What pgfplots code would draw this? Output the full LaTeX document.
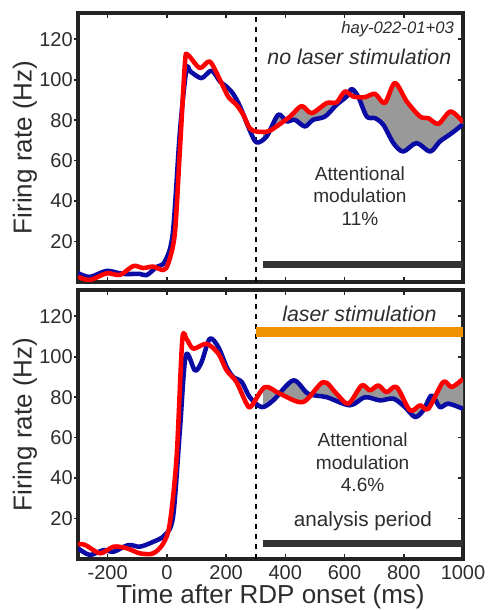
\documentclass[border=0pt]{standalone}
\usepackage{pgfplots}
\pgfplotsset{compat=1.18}
\usepgfplotslibrary{fillbetween}
\usepackage{fontspec}
\setmainfont{Liberation Sans}
\definecolor{myblue}{RGB}{10,10,165}
\definecolor{myred}{RGB}{255,0,0}
\definecolor{myorange}{RGB}{240,146,0}
\definecolor{txt}{RGB}{45,45,45}
\definecolor{frame}{RGB}{35,35,35}

\pgfplotsset{
 myaxis/.style={
  scale only axis, width=288.75pt, height=201.75pt,
  xmin=-300, xmax=1000, ymin=0, ymax=133,
  xtick={-200,0,...,1000}, ytick={20,40,...,120},
  tick align=inside, major tick length=4pt,
  ytick pos=right, yticklabel pos=left,
  extra y ticks={20,40,...,120}, extra y tick labels={},
  extra y tick style={ytick pos=left, tick align=outside, major tick length=3pt},
  axis line style={line width=2.6pt, frame},
  every tick/.style={line width=1.2pt, frame},
  tick label style={font=\fontsize{15}{18}\selectfont, text=txt},
  /pgf/number format/assume math mode=true,
  /pgf/number format/1000 sep={},
  ylabel={Firing rate (Hz)},
  ylabel style={font=\fontsize{19.5}{23}\selectfont, text=txt, at={(axis description cs:-0.138,0.5)}, rotate=0, anchor=center},
  yticklabel style={inner sep=0pt, xshift=-3.75pt},
  xticklabel style={anchor=base, yshift=-15pt},
 },
 blueline/.style={myblue, line width=3.4pt, smooth, line join=round},
 redline/.style={myred, line width=3.4pt, smooth, line join=round},
}

\begin{document}
\begin{tikzpicture}
% ---------------- top panel ----------------
\begin{axis}[myaxis, at={(0pt,207.75pt)}, anchor=south west, xticklabels={}]
\addplot[black, line width=1.5pt, dash pattern=on 3.75pt off 3.75pt, forget plot] coordinates {(300,0) (300,133)};
\addplot[name path=Atop, blueline, draw=none, forget plot] coordinates {
(-300,4.4) (-260,2.5) (-203,5.5) (-149,4) (-91,4) (-68,3.4) (-34,7.5) (-7,10) (20,24) (44,74) (66,105) (80,104)
(117,100.8) (151,104.5) (180,99) (201,96.7) (224,93) (247,86.8) (280,75) (303,69) (337,72) (376,82.7) (404,79.4)
(432,80.2) (466,76.9) (494,80.2) (534,81.8) (573,87.6) (607,91.7) (624,95.4) (646,91.7) (675,81.8) (703,81)
(731,77.7) (765,68.7) (798,64.5) (843,68.7) (889,64.5) (922,69.5) (962,73.6) (1000,78)};
\addplot[name path=Btop, redline, draw=none, forget plot] coordinates {
(-300,2.6) (-260,1) (-203,4.3) (-158,3.5) (-113,7.9) (-80,6.9) (-46,7.6) (-12,5.9) (5,9.3) (27,24) (44,65) (61,108)
(70,112.4) (111,105.8) (145,109) (179,100) (207,91.7) (235,87.6) (258,82.7) (280,76) (303,74.4) (342,74.4) (370,76.9)
(416,81.8) (455,87) (489,83.5) (540,88.5) (573,88.8) (601,94.2) (629,91.7) (669,91.4) (703,93) (736,88.5) (770,98.4)
(810,89.3) (855,81.8) (883,81) (917,78.2) (958,84.3) (1000,79)};
\addplot[fill=black!40, draw=none, forget plot] fill between[of=Atop and Btop, soft clip={domain=325:1000}];
\addplot[blueline, forget plot] coordinates {
(-300,4.4) (-260,2.5) (-203,5.5) (-149,4) (-91,4) (-68,3.4) (-34,7.5) (-7,10) (20,24) (44,74) (66,105) (80,104)
(117,100.8) (151,104.5) (180,99) (201,96.7) (224,93) (247,86.8) (280,75) (303,69) (337,72) (376,82.7) (404,79.4)
(432,80.2) (466,76.9) (494,80.2) (534,81.8) (573,87.6) (607,91.7) (624,95.4) (646,91.7) (675,81.8) (703,81)
(731,77.7) (765,68.7) (798,64.5) (843,68.7) (889,64.5) (922,69.5) (962,73.6) (1000,78)};
\addplot[redline, forget plot] coordinates {
(-300,2.6) (-260,1) (-203,4.3) (-158,3.5) (-113,7.9) (-80,6.9) (-46,7.6) (-12,5.9) (5,9.3) (27,24) (44,65) (61,108)
(70,112.4) (111,105.8) (145,109) (179,100) (207,91.7) (235,87.6) (258,82.7) (280,76) (303,74.4) (342,74.4) (370,76.9)
(416,81.8) (455,87) (489,83.5) (540,88.5) (573,88.8) (601,94.2) (629,91.7) (669,91.4) (703,93) (736,88.5) (770,98.4)
(810,89.3) (855,81.8) (883,81) (917,78.2) (958,84.3) (1000,79)};
\addplot[black!80, line width=5.25pt, forget plot] coordinates {(324,8.6) (1000,8.6)};
\node[font=\fontsize{12.5}{15}\selectfont\itshape, text=txt, anchor=east] at (axis cs:985,124.8) {hay-022-01+03};
\node[font=\fontsize{16}{19}\selectfont\itshape, text=txt] at (axis cs:650,111.4) {no laser stimulation};
\node[font=\fontsize{14.3}{17}\selectfont, text=txt, align=center] at (axis cs:652,42.5) {Attentional\\modulation\\11\%};
\end{axis}
% ---------------- bottom panel ----------------
\begin{axis}[myaxis, at={(0pt,0pt)}, anchor=south west,
  xlabel={Time after RDP onset (ms)},
  xlabel style={font=\fontsize{19.5}{23}\selectfont, text=txt, at={(axis description cs:0.5,0)}, anchor=base, yshift=-33pt}]
\addplot[black, line width=1.5pt, dash pattern=on 3.75pt off 3.75pt, forget plot] coordinates {(300,0) (300,133)};
\addplot[name path=Abot, blueline, draw=none, forget plot] coordinates {
(-300,5.3) (-260,2) (-214,4.4) (-180,3.6) (-130,6.9) (-91,6.1) (-46,8.5) (-7,11.8) (21,20.9) (44,63.6) (64,100.6)
(95,93.2) (117,97.3) (145,108.9) (174,104.7) (202,94.9) (224,90) (253,87.5) (280,80) (320,75.1) (359,78.4) (427,88.3)
(477,81.7) (540,80) (618,76) (669,80) (720,78.4) (765,79.3) (804,75.1) (838,70.2) (866,73.5) (894,80.9) (922,75.1)
(950,76.8) (1000,74.3)};
\addplot[name path=Bbot, redline, draw=none, forget plot] coordinates {
(-300,7.4) (-275,6.9) (-225,2.8) (-180,6.1) (-135,5.3) (-91,2.8) (-46,2.8) (-12,7.7) (10,17.6) (33,50.5) (52,108)
(66,108.9) (89,104) (134,106.4) (174,101.5) (202,93.2) (235,87.5) (269,76.8) (285,75.5) (331,85) (382,81.7) (460,77.6)
(528,87.5) (573,81.7) (613,76.8) (658,85.8) (686,83.4) (714,85.8) (742,82.5) (776,85) (821,73.5) (855,76) (883,74.3)
(933,87.5) (962,85) (1000,89.1)};
\addplot[fill=black!40, draw=none, forget plot] fill between[of=Abot and Bbot, soft clip={domain=325:1000}];
\addplot[blueline, forget plot] coordinates {
(-300,5.3) (-260,2) (-214,4.4) (-180,3.6) (-130,6.9) (-91,6.1) (-46,8.5) (-7,11.8) (21,20.9) (44,63.6) (64,100.6)
(95,93.2) (117,97.3) (145,108.9) (174,104.7) (202,94.9) (224,90) (253,87.5) (280,80) (320,75.1) (359,78.4) (427,88.3)
(477,81.7) (540,80) (618,76) (669,80) (720,78.4) (765,79.3) (804,75.1) (838,70.2) (866,73.5) (894,80.9) (922,75.1)
(950,76.8) (1000,74.3)};
\addplot[redline, forget plot] coordinates {
(-300,7.4) (-275,6.9) (-225,2.8) (-180,6.1) (-135,5.3) (-91,2.8) (-46,2.8) (-12,7.7) (10,17.6) (33,50.5) (52,108)
(66,108.9) (89,104) (134,106.4) (174,101.5) (202,93.2) (235,87.5) (269,76.8) (285,75.5) (331,85) (382,81.7) (460,77.6)
(528,87.5) (573,81.7) (613,76.8) (658,85.8) (686,83.4) (714,85.8) (742,82.5) (776,85) (821,73.5) (855,76) (883,74.3)
(933,87.5) (962,85) (1000,89.1)};
\addplot[black!80, line width=5.25pt, forget plot] coordinates {(324,7.5) (1000,7.5)};
\addplot[myorange, line width=8pt, forget plot] coordinates {(300,112.3) (1000,112.3)};
\node[font=\fontsize{16}{19}\selectfont\itshape, text=txt] at (axis cs:650,121.4) {laser stimulation};
\node[font=\fontsize{14.3}{17}\selectfont, text=txt, align=center] at (axis cs:661,47.8) {Attentional\\modulation\\4.6\%};
\node[font=\fontsize{15.5}{18}\selectfont, text=txt] at (axis cs:662,18.5) {analysis period};
\end{axis}
\pgfresetboundingbox
\useasboundingbox (-58.5pt,-38.25pt) rectangle (309pt,419.25pt);
\end{tikzpicture}
\end{document}
